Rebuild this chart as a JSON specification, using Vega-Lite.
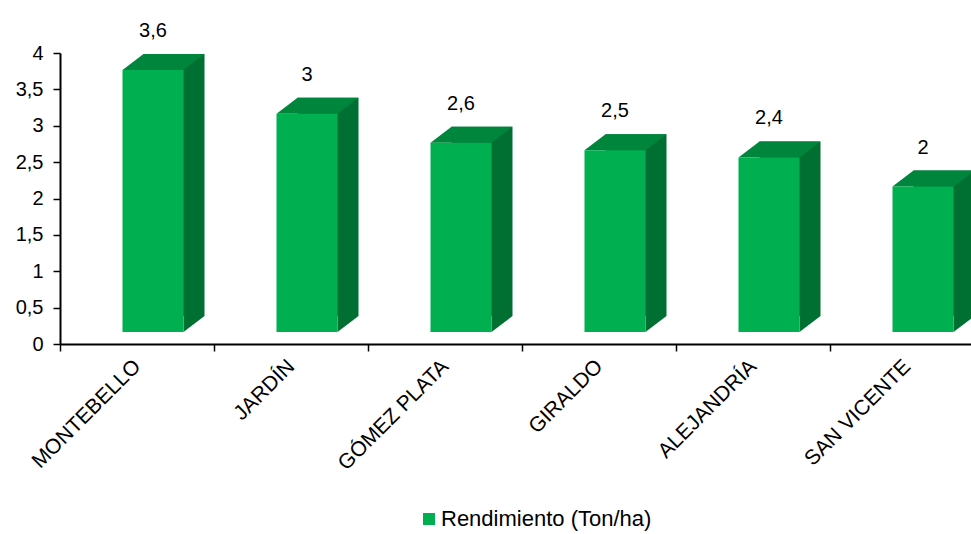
{
  "$schema": "https://vega.github.io/schema/vega-lite/v6.json",
  "autosize": {"type": "none"},
  "width": 911,
  "height": 291,
  "padding": {"left": 60, "top": 53, "right": 0, "bottom": 190},
  "background": "white",
  "config": {
    "font": "Liberation Sans",
    "view": {"stroke": null},
    "locale": {"number": {"decimal": ",", "thousands": ".", "grouping": [3], "currency": ["", ""]}}
  },
  "data": {
    "values": [
      {"municipio": "MONTEBELLO", "rendimiento": 3.6},
      {"municipio": "JARDÍN", "rendimiento": 3.0},
      {"municipio": "GÓMEZ PLATA", "rendimiento": 2.6},
      {"municipio": "GIRALDO", "rendimiento": 2.5},
      {"municipio": "ALEJANDRÍA", "rendimiento": 2.4},
      {"municipio": "SAN VICENTE", "rendimiento": 2.0}
    ]
  },
  "encoding": {
    "x": {
      "field": "municipio", "type": "nominal", "sort": null,
      "scale": {"paddingInner": 0, "paddingOuter": 0, "range": [0, 924]},
      "axis": {
        "title": null, "labelAngle": -45, "labelAlign": "right", "labelBaseline": "middle",
        "labelFontSize": 21, "labelColor": "black", "labelPadding": 12, "labelLimit": 400,
        "tickBand": "extent", "tickColor": "black", "tickSize": 7, "tickWidth": 1.5,
        "domainColor": "black", "domainWidth": 2, "grid": false
      }
    },
    "y": {
      "field": "rendimiento", "type": "quantitative",
      "scale": {"domain": [0, 4], "nice": false},
      "axis": {
        "title": null, "values": [0, 0.5, 1, 1.5, 2, 2.5, 3, 3.5, 4], "format": "~g",
        "labelFontSize": 20, "labelColor": "black", "labelPadding": 10,
        "tickColor": "black", "tickSize": 7, "tickWidth": 1.5,
        "domainColor": "black", "domainWidth": 2, "grid": false
      }
    }
  },
  "layer": [
    {
      "mark": {"type": "bar", "width": 61, "xOffset": 37, "yOffset": -28, "y2Offset": -28, "color": "#006f32"}
    },
    {
      "mark": {"type": "point", "filled": true, "opacity": 1, "strokeWidth": 0, "size": 6724, "xOffset": 26.5, "yOffset": -12,
        "shape": "M-1,0L0.488,0L1,-0.39L-0.488,-0.39Z", "color": "#00853d"}
    },
    {
      "mark": {"type": "point", "filled": true, "opacity": 1, "strokeWidth": 0, "size": 6724, "xOffset": 26.5, "yOffset": -12,
        "shape": "M0.488,0L1,-0.39L0.488,-0.39Z", "color": "#006f32"},
      "encoding": {"y": {"datum": 0}}
    },
    {
      "mark": {"type": "bar", "width": 61, "xOffset": 16, "yOffset": -12, "y2Offset": -12},
      "encoding": {
        "color": {
          "datum": "Rendimiento (Ton/ha)",
          "scale": {"range": ["#00b050"]},
          "legend": {
            "title": null, "orient": "none", "legendX": 358, "legendY": 455,
            "symbolType": "square", "symbolSize": 144, "labelFontSize": 22, "labelColor": "black",
            "labelOffset": 1, "labelLimit": 400, "padding": 0, "symbolOpacity": 1
          }
        }
      }
    },
    {
      "mark": {"type": "text", "fontSize": 20, "color": "black", "xOffset": 16, "yOffset": -51, "baseline": "middle"},
      "encoding": {"text": {"field": "rendimiento", "type": "quantitative", "format": "~g"}}
    }
  ]
}
